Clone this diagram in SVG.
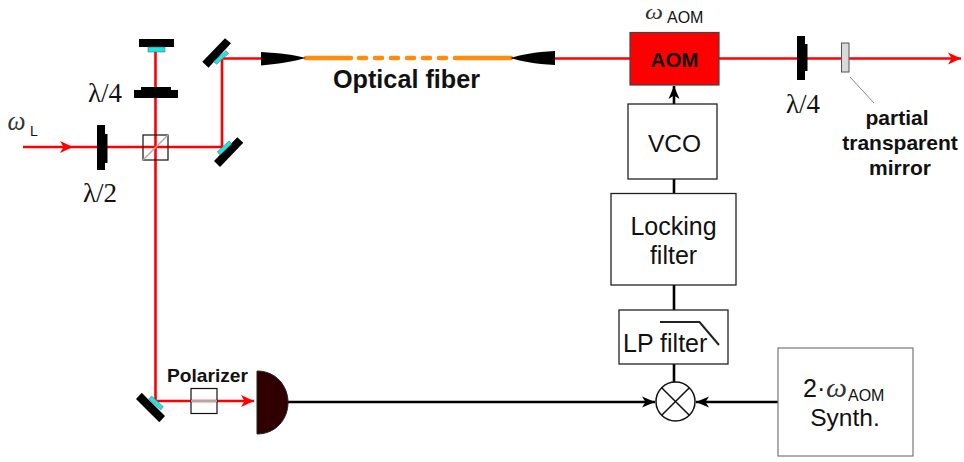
<svg xmlns="http://www.w3.org/2000/svg" width="964" height="462" viewBox="0 0 964 462">
<style>
text{font-family:"Liberation Sans",Arial,sans-serif;fill:#111}
.b{font-weight:bold}
.g{font-family:"Liberation Serif","Times New Roman",serif}
.w{font-family:"Liberation Serif","Times New Roman",serif;font-style:italic;fill:#333}
.m{text-anchor:middle}
.r{fill:none;stroke:#f00;stroke-width:2.6}
.k{fill:none;stroke:#000;stroke-width:2.6}
.o{fill:none;stroke:#ff8c0a;stroke-width:4.5;stroke-linecap:round}
.bx{fill:#fff;stroke:#222;stroke-width:1.3}
.pl{fill:#000}
.cy{fill:#19e6e6;stroke:#555;stroke-width:.5}
.thin{fill:none;stroke:#111;stroke-width:1.2}
</style>
<defs>
<marker id="ar" markerUnits="userSpaceOnUse" markerWidth="16" markerHeight="14" refX="14" refY="7" orient="auto"><path d="M1,1 L14,7 L1,13 L4.5,7z" fill="#f00"/></marker>
<marker id="ak" markerUnits="userSpaceOnUse" markerWidth="16" markerHeight="14" refX="14" refY="7" orient="auto"><path d="M1,1.5 L14,7 L1,12.5 L4.5,7z" fill="#000"/></marker>
</defs>
<g id="connectors">
<path class="r" d="M23,147H73" marker-end="url(#ar)"/>
<path class="r" d="M73,147H222V58.5H262"/>
<path class="r" d="M155.5,52V401H254" marker-end="url(#ar)"/>
<path class="r" d="M555,58.5H961" marker-end="url(#ar)"/>
<path class="k" d="M674,104V86" marker-end="url(#ak)"/>
<path class="k" d="M674,179V193"/>
<path class="k" d="M674,285V310"/>
<path class="k" d="M674,364V382"/>
<path class="k" d="M288,402H655" marker-end="url(#ak)"/>
<path class="k" d="M778,402H696" marker-end="url(#ak)"/>
<path fill="none" stroke="#888" stroke-width="1" d="M850,77L874,103"/>
</g>
<g id="fiber">
<path class="o" d="M306,58H351M359,58H366M375,58H382M391,58H398M407,58H414M423,58H430M439,58H446M455,58H511"/>
<path class="pl" d="M261,52C280,53 295,55 306,58C295,61 280,64 261,65.500z"/>
<path class="pl" d="M555,51C535,52 520,55 510,58C520,61 535,64 555,65z"/>
<text class="b" x="333" y="88" font-size="25" textLength="147" lengthAdjust="spacingAndGlyphs">Optical fiber</text>
</g>
<g id="input"><text class="w" x="7.500" y="130" font-size="28" textLength="18" lengthAdjust="spacingAndGlyphs">ω</text><text x="30" y="136" font-size="14">L</text></g>
<g id="half-wave-plate">
<rect class="pl" x="97" y="125" width="8" height="45"/><rect class="pl" x="105" y="134" width="2.500" height="29"/>
<text class="g" x="83" y="202" font-size="27">λ/2</text>
</g>
<g id="beam-splitter">
<rect class="thin" x="143" y="135" width="25" height="25"/>
<path d="M143,160L168,135" stroke="#aaa" stroke-width="1.500"/>
</g>
<g id="quarter-wave-plate-1">
<rect class="pl" x="134" y="90" width="44" height="8"/><rect class="pl" x="141" y="87" width="30" height="3"/>
<text class="g" x="88" y="102" font-size="27">λ/4</text>
</g>
<g id="mirror-top">
<rect class="pl" x="139" y="39" width="35" height="8"/><rect class="cy" x="148" y="47" width="17" height="5"/>
</g>
<g id="mirror-upper-right">
<path class="pl" d="M225,38.300L231,43.300L208.500,67.700L202.300,61.700z"/>
<path class="cy" d="M213.500,61.700L216.700,64.300L228.700,53.300L226,50.700z"/>
</g>
<g id="mirror-lower-right">
<path class="pl" d="M237.300,137.300L243.300,142.700L220,167L214,161z"/>
<path class="cy" d="M217.300,151.700L220,155L231.700,144L229,141z"/>
</g>
<g id="mirror-bottom">
<path class="pl" d="M141.700,392.700L165,416L159.300,422.300L136,399z"/>
<path class="cy" d="M151.700,396L163.300,406.700L160.700,410L148.700,399z"/>
</g>
<g id="polarizer">
<rect class="thin" x="191" y="388.500" width="26" height="25"/>
<path d="M191,401H217" stroke="#aaa" stroke-width="2"/>
<text class="b" x="167" y="382" font-size="19" textLength="81" lengthAdjust="spacingAndGlyphs">Polarizer</text>
</g>
<g id="detector"><path d="M257,371C276,371 288,386 288,402.500C288,419 276,434 257,434z" fill="#300000" stroke="#222" stroke-width="1"/></g>
<g id="aom">
<rect x="630" y="32.500" width="89" height="52.500" fill="#f00" stroke="#444" stroke-width="1.200"/>
<text class="b m" x="674.500" y="66.500" font-size="20.500">AOM</text>
<text class="w" x="645" y="18.500" font-size="21" textLength="18" lengthAdjust="spacingAndGlyphs">ω</text><text x="667" y="22.500" font-size="16">AOM</text>
</g>
<g id="quarter-wave-plate-2">
<rect class="pl" x="797" y="36" width="8" height="44"/><rect class="pl" x="805" y="44" width="2.500" height="27"/>
<text class="g" x="786" y="113" font-size="27">λ/4</text>
</g>
<g id="partial-mirror">
<rect x="841.500" y="43" width="7.500" height="29" fill="#d9d9d9" stroke="#555" stroke-width="1"/>
<text class="b m" x="897" y="125" font-size="21">partial</text>
<text class="b m" x="900" y="150" font-size="21">transparent</text>
<text class="b m" x="900" y="175" font-size="21">mirror</text>
</g>
<g id="vco"><rect class="bx" x="628" y="104" width="89" height="75"/><text class="m" x="674.500" y="152" font-size="24.500">VCO</text></g>
<g id="locking-filter"><rect class="bx" x="611" y="193.500" width="125" height="91.500"/>
<text class="m" x="673.500" y="235" font-size="25">Locking</text><text class="m" x="673.500" y="264" font-size="25">filter</text></g>
<g id="lp-filter"><rect class="bx" x="619" y="310" width="109" height="54"/>
<text x="623" y="352" font-size="25">LP filter</text>
<path d="M660,322H699.500L719,345" fill="none" stroke="#222" stroke-width="2"/></g>
<g id="mixer"><circle cx="675.500" cy="401.500" r="19.500" fill="#fff" stroke="#111" stroke-width="1.500"/>
<path d="M661.700,387.700L689.300,415.300M689.300,387.700L661.700,415.300" stroke="#111" stroke-width="1.500"/></g>
<g id="synth"><rect x="778" y="348" width="135" height="108" fill="#fff" stroke="#777" stroke-width="1.200"/>
<text x="803" y="397" font-size="25">2·</text><text class="w" x="826" y="397" font-size="28" textLength="21" lengthAdjust="spacingAndGlyphs">ω</text><text x="848" y="400.500" font-size="16">AOM</text>
<text class="m" x="845" y="426" font-size="24.500">Synth.</text></g>
</svg>
